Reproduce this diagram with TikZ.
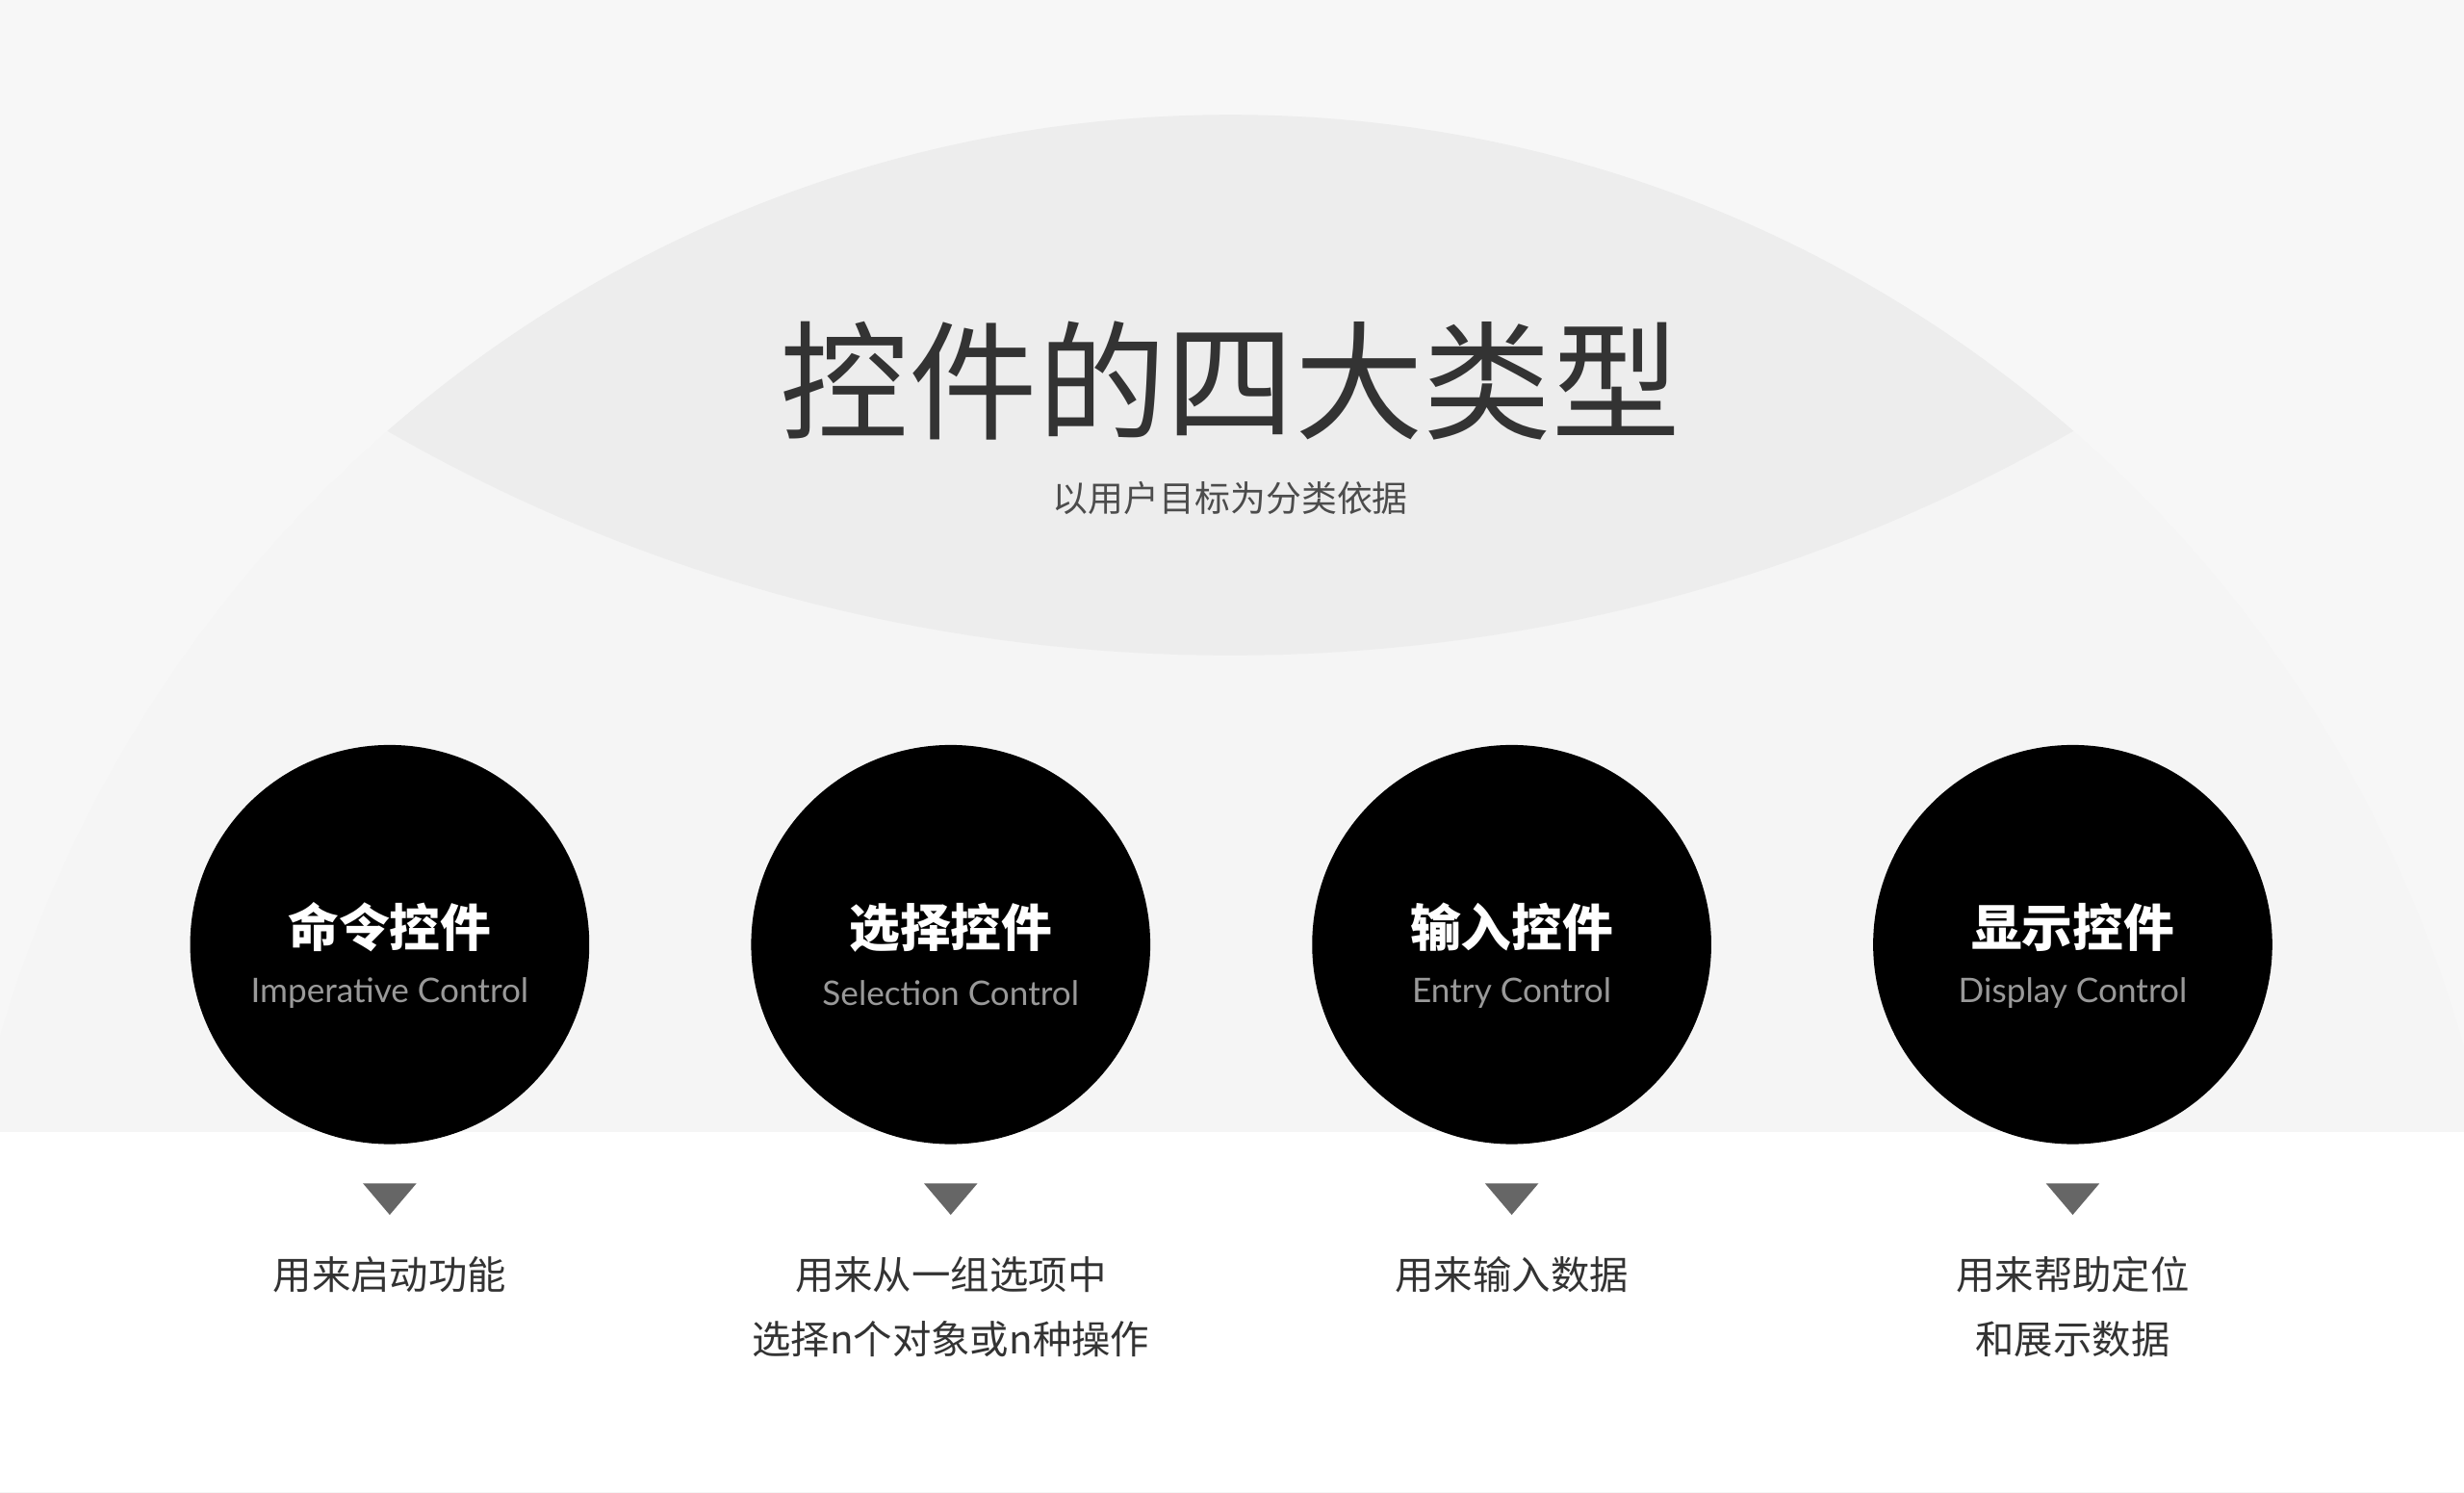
\documentclass[tikz,border=0pt]{standalone}
\usepackage{fontspec}
\newfontfamily\cjk{Noto Sans CJK SC}
\newfontfamily\lat{Lato}
\begin{document}
\begin{tikzpicture}[x=0.01633cm,y=-0.01633cm,
  bigc/.style={circle,fill=black,minimum size=254*0.01633cm,inner sep=0pt},
  ttl/.style={font=\cjk\bfseries\fontsize{15}{18}\selectfont,text=white},
  sub/.style={font=\lat\fontsize{10}{12}\selectfont,text=white!60!black},
  desc/.style={font=\cjk\fontsize{11.5}{19}\selectfont,text=black!80,align=center},
  tri/.style={fill=black!60}]
\useasboundingbox (0,0) rectangle (1568,949.4);
\fill[white] (0,0) rectangle (1568,949.4);
\begin{scope}
\clip (0,0) rectangle (1568,949.4);
\fill[black!3] (0,60) rectangle (1568,720);
\fill[black!4] (783,888.7) circle (815.7);
\fill[black!3] (783,-661) circle (1078);
\begin{scope}
\clip (783,888.7) circle (815.7);
\fill[black!7] (783,-661) circle (1078);
\end{scope}
\fill[white] (0,720) rectangle (1568,949.4);
\end{scope}
\node[font=\cjk\fontsize{38}{44}\selectfont,text=black!80] (title) at (783,242) {控件的四大类型};
\node[font=\cjk\fontsize{10.5}{13}\selectfont,text=black!70] (subt) at (783,317) {以用户目标为分类依据};
\foreach \i/\x/\a/\b/\c in {1/248/命令控件/Imperative Control/用来启动功能,
  2/605/选择控件/Selection Control/{用来从一组选项中\\选择n个对象或n种操作},
  3/962/输入控件/Entry Control/用来输入数据,
  4/1319/显示控件/Display Control/{用来帮助定位\\和展示数据}}{
  \node[bigc] (c\i) at (\x,601) {};
  \node[ttl] (t\i) at (\x,590) {\a};
  \node[sub] (s\i) at (\x,632) {\b};
  \fill[tri] (\x-17,753) -- (\x+17,753) -- (\x,773) -- cycle;
  \node[desc,anchor=north] (d\i) at (\x,792) {\c};
}
\end{tikzpicture}
\end{document}
